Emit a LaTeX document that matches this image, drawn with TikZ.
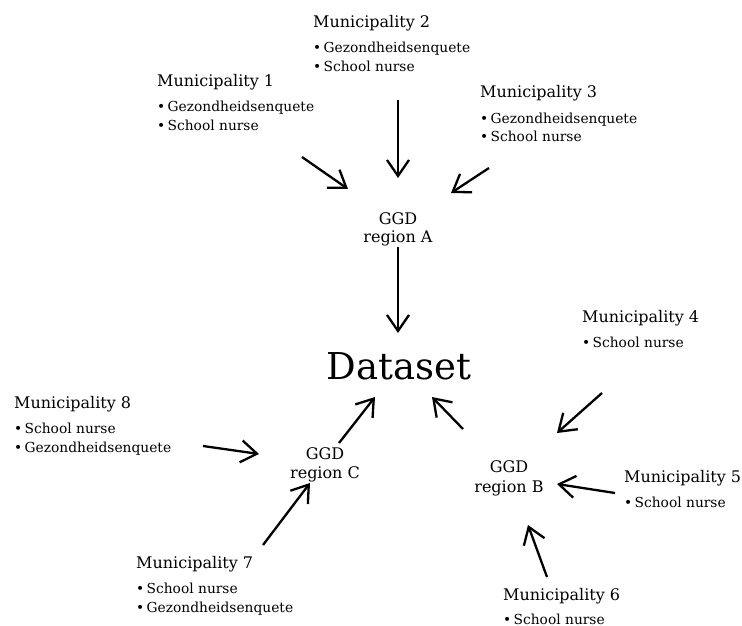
\documentclass[tikz,border=0pt]{standalone}
\usepackage{fontspec}
\setmainfont{DejaVu Serif}
\usetikzlibrary{arrows.meta}
\begin{document}
\begin{tikzpicture}[x=1pt,y=-1pt,
  title/.style={anchor=base west,inner sep=0pt,font=\fontsize{16}{19}\selectfont},
  item/.style={anchor=base west,inner sep=0pt,font=\fontsize{13.8}{16}\selectfont},
  ggd/.style={anchor=base,inner sep=0pt,font=\fontsize{16}{19}\selectfont},
  flow/.style={line width=2.3pt,-{Straight Barb[length=16pt,width=22pt,line width=2.3pt]}}]
\useasboundingbox (0,0) rectangle (742,626);
% Municipality 1
\node[title] (m1) at (157,86) {Municipality 1};
\node[item] (m1a) at (157,111) {•\,Gezondheidsenquete};
\node[item] (m1b) at (157,130) {•\,School nurse};
% Municipality 2
\node[title] (m2) at (313,28) {Municipality 2};
\node[item] (m2a) at (313,53) {•\,Gezondheidsenquete};
\node[item] (m2b) at (313,72) {•\,School nurse};
% Municipality 3
\node[title] (m3) at (480,98) {Municipality 3};
\node[item] (m3a) at (480,123) {•\,Gezondheidsenquete};
\node[item] (m3b) at (480,141) {•\,School nurse};
% Municipality 4
\node[title] (m4) at (582,322) {Municipality 4};
\node[item] (m4a) at (582,347) {•\,School nurse};
% Municipality 5
\node[title] (m5) at (624,482) {Municipality 5};
\node[item] (m5a) at (624,507) {•\,School nurse};
% Municipality 6
\node[title] (m6) at (503,600) {Municipality 6};
\node[item] (m6a) at (503,624) {•\,School nurse};
% Municipality 7
\node[title] (m7) at (136,568) {Municipality 7};
\node[item] (m7a) at (136,593) {•\,School nurse};
\node[item] (m7b) at (136,612) {•\,Gezondheidsenquete};
% Municipality 8
\node[title] (m8) at (14,408) {Municipality 8};
\node[item] (m8a) at (14,433) {•\,School nurse};
\node[item] (m8b) at (14,452) {•\,Gezondheidsenquete};
% GGD regions
\node[ggd] (ga1) at (398,224) {GGD};
\node[ggd] (ga2) at (398,242) {region A};
\node[ggd] (gc1) at (325,459) {GGD};
\node[ggd] (gc2) at (325,478) {region C};
\node[ggd] (gb1) at (509,472) {GGD};
\node[ggd] (gb2) at (509,492) {region B};
% Dataset
\node[anchor=base,inner sep=0pt,font=\fontsize{37}{44}\selectfont] (ds) at (399,379) {Dataset};
% arrow ends
\coordinate (t1) at (302,157); \coordinate (h1) at (348,189);
\coordinate (t2) at (398,100); \coordinate (h2) at (398,178);
\coordinate (t3) at (489,168); \coordinate (h3) at (451,193);
\coordinate (tA) at (398,247); \coordinate (hA) at (398,333);
\coordinate (tC) at (339,443); \coordinate (hC) at (375,397);
\coordinate (tB) at (463,429); \coordinate (hB) at (432,397);
\coordinate (t4) at (602,393); \coordinate (h4) at (557,433);
\coordinate (t5) at (615,493); \coordinate (h5) at (557,484);
\coordinate (t6) at (547,577); \coordinate (h6) at (528,525);
\coordinate (t7) at (263,545); \coordinate (h7) at (310,483);
\coordinate (t8) at (203,446); \coordinate (h8) at (259,454);
\foreach \a/\b in {t1/h1,t2/h2,t3/h3,tA/hA,tC/hC,tB/hB,t4/h4,t5/h5,t6/h6,t7/h7,t8/h8}
  \draw[flow] (\a) -- (\b);
\end{tikzpicture}
\end{document}
